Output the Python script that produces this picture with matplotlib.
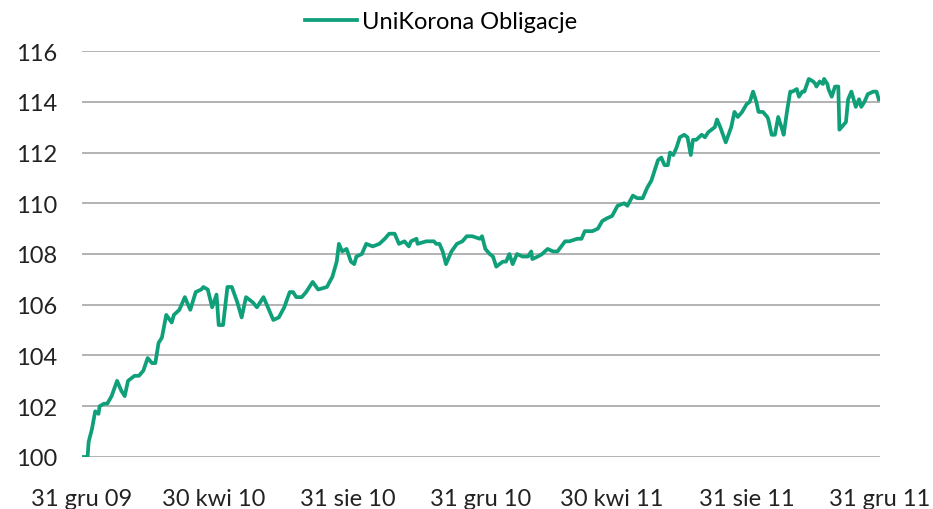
import numpy as np
import matplotlib
matplotlib.use('Agg')
import matplotlib.pyplot as plt

start_date = np.datetime64('2009-12-31')

# days since 31 gru 09
days = [0, 5, 6, 9, 12, 15, 16, 20, 23, 27, 32, 36, 39, 42, 48, 52, 56, 60, 64, 67,
        70, 73, 77, 82, 84, 89, 94, 99, 104, 109, 111, 115, 119, 123, 125, 129, 133, 137, 142, 146,
        150, 156, 160, 166, 171, 175, 180, 185, 190, 193, 196, 201, 205, 211, 216, 224, 229, 233, 235, 238,
        242, 246, 249, 251, 256, 260, 266, 272, 277, 281, 286, 290, 295, 299, 301, 306, 307, 315, 322, 324,
        327, 330, 333, 338, 343, 348, 352, 357, 364, 366, 369, 373, 376, 379, 382, 385, 388, 391, 394, 398,
        403, 408, 411, 412, 417, 421, 426, 431, 435, 442, 446, 453, 457, 460, 464, 467, 472, 476, 480, 485,
        490, 496, 499, 504, 508, 513, 517, 521, 524, 527, 530, 533, 536, 538, 541, 544, 547, 551, 554, 557,
        559, 562, 567, 570, 573, 579, 581, 584, 589, 594, 597, 600, 604, 608, 611, 614, 617, 619, 623, 627,
        628, 631, 634, 637, 640, 642, 645, 648, 650, 654, 656, 659, 661, 665, 669, 671, 672, 675, 678, 679,
        682, 683, 686, 689, 692, 693, 699, 701, 704, 708, 711, 713, 716, 719, 724, 727, 729]

values = [100.0, 100.0, 100.6, 101.1, 101.8, 101.7, 102.0, 102.1, 102.1, 102.4, 103.0, 102.6, 102.4, 103.0, 103.2, 103.2, 103.4, 103.9, 103.7, 103.7,
          104.5, 104.7, 105.6, 105.3, 105.6, 105.8, 106.3, 105.8, 106.5, 106.6, 106.7, 106.6, 105.9, 106.4, 105.2, 105.2, 106.7, 106.7, 106.1, 105.5,
          106.3, 106.1, 105.9, 106.3, 105.8, 105.4, 105.5, 105.9, 106.5, 106.5, 106.3, 106.3, 106.5, 106.9, 106.6, 106.7, 107.1, 107.7, 108.4, 108.1,
          108.2, 107.7, 107.6, 107.9, 108.0, 108.4, 108.3, 108.4, 108.6, 108.8, 108.8, 108.4, 108.5, 108.3, 108.5, 108.6, 108.4, 108.5, 108.5, 108.4,
          108.4, 108.1, 107.6, 108.1, 108.4, 108.5, 108.7, 108.7, 108.6, 108.7, 108.2, 108.0, 107.9, 107.5, 107.6, 107.7, 107.7, 108.0, 107.6, 108.0,
          107.9, 107.9, 108.1, 107.8, 107.9, 108.0, 108.2, 108.1, 108.1, 108.5, 108.5, 108.6, 108.6, 108.9, 108.9, 108.9, 109.0, 109.3, 109.4, 109.5,
          109.9, 110.0, 109.9, 110.3, 110.2, 110.2, 110.6, 110.9, 111.3, 111.7, 111.8, 111.5, 111.5, 112.0, 111.9, 112.2, 112.6, 112.7, 112.6, 111.9,
          112.5, 112.5, 112.7, 112.6, 112.8, 113.0, 113.3, 113.0, 112.4, 113.0, 113.6, 113.4, 113.6, 113.9, 114.0, 114.4, 114.0, 113.6, 113.6, 113.4,
          113.3, 112.7, 112.7, 113.4, 113.0, 112.7, 113.6, 114.4, 114.4, 114.5, 114.2, 114.4, 114.4, 114.9, 114.8, 114.7, 114.6, 114.8, 114.7, 114.9,
          114.7, 114.5, 114.2, 114.6, 114.6, 112.9, 113.2, 114.1, 114.4, 113.8, 114.1, 113.8, 114.0, 114.3, 114.4, 114.4, 114.1]

tick_dates = ['2009-12-31', '2010-04-30', '2010-08-31', '2010-12-31', '2011-04-30', '2011-08-31', '2011-12-31']
tick_labels = ['31 gru 09', '30 kwi 10', '31 sie 10', '31 gru 10', '30 kwi 11', '31 sie 11', '31 gru 11']
y_ticks = [100, 102, 104, 106, 108, 110, 112, 114, 116]

plt.rcParams['font.family'] = ['Lato', 'DejaVu Sans']

dates = start_date + np.array(days).astype('timedelta64[D]')
ticks = np.array(tick_dates, dtype='datetime64[D]')

fig = plt.figure(figsize=(9.33, 5.10), dpi=100)
ax = fig.add_axes([0.088, 0.102, 0.855, 0.796])

ax.plot(dates, values, color='#0FA07A', lw=2.7, label='UniKorona Obligacje', solid_joinstyle='round')

ax.set_ylim(100, 116)
ax.set_xlim(ticks[0], ticks[-1])
ax.set_yticks(y_ticks)
ax.set_xticks(ticks)
ax.set_xticklabels(tick_labels)
ax.yaxis.grid(True, color='#a6a6a6', lw=1.2)
ax.set_axisbelow(True)
for s in ax.spines.values():
    s.set_visible(False)
ax.tick_params(axis='both', length=0, labelsize=17, colors='#222222')
ax.tick_params(axis='x', pad=22)
ax.tick_params(axis='y', pad=18)

ax.legend(loc='center', bbox_to_anchor=(0.45, 1.072), frameon=False, fontsize=17,
          handlelength=2.2, handletextpad=0.25)

fig.savefig('out.png', dpi=100)
